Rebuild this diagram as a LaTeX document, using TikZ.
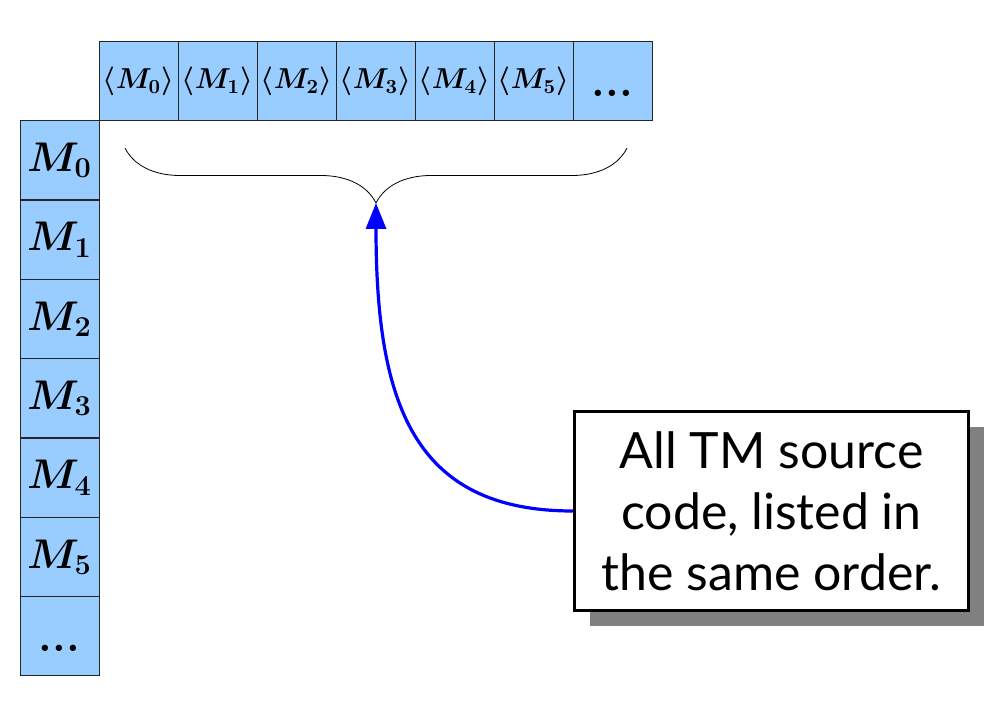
\documentclass[tikz,border=0pt]{standalone}
\usepackage{fontspec}
\newfontfamily\notefont{Lato}
\usetikzlibrary{decorations.pathreplacing,shadows,arrows.meta}
\definecolor{cellblue}{RGB}{153,204,255}
\tikzset{
  cell/.style={draw=black!85, fill=cellblue, line width=0.5pt, inner sep=0pt,
    minimum width=39.5pt, minimum height=39.5pt},
  dots/.style={cell, font=\bfseries\fontsize{22}{22}\selectfont},
  note/.style={draw, line width=1.5pt, fill=white, align=center,
    minimum width=197pt, minimum height=99.5pt,
    font=\notefont\fontsize{25}{30.5}\selectfont,
    drop shadow={shadow xshift=7.5pt, shadow yshift=-7.5pt, fill=black!50, opacity=1}}
}
\begin{document}
\begin{tikzpicture}[x=0.5pt, y=-0.5pt]
  \useasboundingbox (0,0) rectangle (1004,716);
  \foreach \i in {0,...,5} {
    \node[cell, font=\fontsize{14.8}{14.8}\selectfont\boldmath] (top\i) at (138.5+79*\i, 81.5)
      {$\langle M_{\i}\rangle$};
    \node[cell, font=\fontsize{21}{21}\selectfont\boldmath] (left\i) at (59.5, 160.5+79.3*\i)
      {$M_{\i}$};
  }
  \node[dots] (top6) at (612.5, 81.5) {\vphantom{M}...};
  \node[dots] (left6) at (59.5, 636.3) {\vphantom{M}...};
  \draw[decorate, decoration={brace, mirror, amplitude=27.5pt}] (125,148) -- (627,148);
  \coordinate (tip) at (376,203);
  \node[note] (note) at (771.5,511) {All TM source\\code, listed in\\the same order.};
  \draw[blue, line width=1.6pt, -{Triangle[length=13pt,width=10pt]}]
    (note.west) .. controls +(-160,0) and +(0,200) .. (tip);
\end{tikzpicture}
\end{document}
